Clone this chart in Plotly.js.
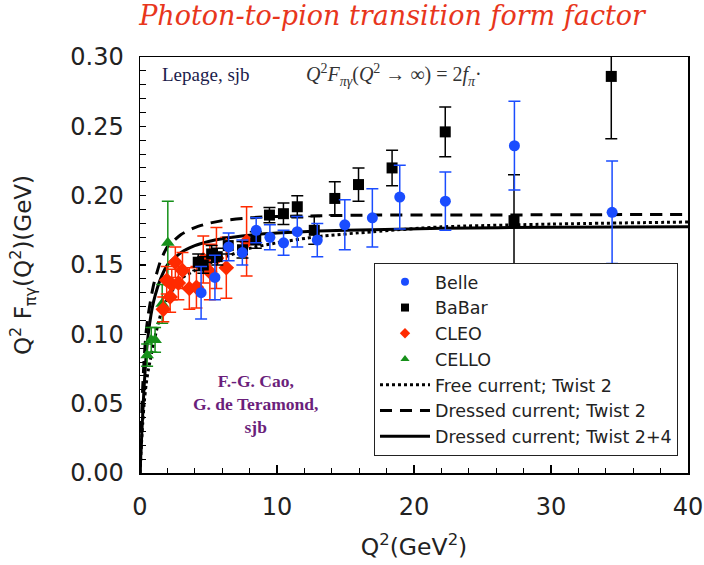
<!DOCTYPE html>
<html>
<head>
<meta charset="utf-8">
<script src="https://cdn.plot.ly/plotly-3.0.1.min.js"></script>
<style>html,body{margin:0;padding:0;background:#fff;}#chart{width:704px;height:565px;}</style>
</head>
<body>
<div id="chart"></div>
<script>
// ---- Data ----
// Belle
const belleQ2  = [4.46, 5.47, 6.47, 7.47, 8.48, 9.48, 10.48, 11.48, 12.94, 14.95, 16.96, 18.96, 22.29, 27.33, 34.46];
const belleF   = [0.130, 0.141, 0.163, 0.159, 0.175, 0.170, 0.166, 0.174, 0.168, 0.179, 0.184, 0.199, 0.196, 0.236, 0.188];
const belleErr = [0.019, 0.016, 0.010, 0.009, 0.009, 0.009, 0.009, 0.011, 0.012, 0.018, 0.021, 0.023, 0.021, 0.032, 0.037];
// BaBar
const babarQ2  = [4.25, 4.62, 5.23, 5.64, 6.44, 7.48, 8.45, 9.45, 10.47, 11.48, 12.72, 14.22, 15.95, 18.40, 22.28, 27.30, 34.40];
const babarF   = [0.152, 0.150, 0.158, 0.156, 0.164, 0.161, 0.168, 0.186, 0.187, 0.192, 0.175, 0.198, 0.208, 0.220, 0.246, 0.182, 0.286];
const babarErr = [0.006, 0.006, 0.006, 0.006, 0.006, 0.006, 0.006, 0.0055, 0.0078, 0.008, 0.010, 0.012, 0.012, 0.0128, 0.018, 0.033, 0.045];
// CLEO
const cleoQ2  = [1.70, 1.95, 2.20, 2.32, 2.58, 2.80, 3.10, 3.60, 4.12, 4.62, 5.10, 5.58, 6.30, 7.78];
const cleoF   = [0.118, 0.139, 0.127, 0.136, 0.152, 0.137, 0.146, 0.133, 0.134, 0.154, 0.145, 0.155, 0.148, 0.167];
const cleoErr = [0.009, 0.010, 0.011, 0.011, 0.011, 0.012, 0.013, 0.015, 0.015, 0.017, 0.020, 0.022, 0.022, 0.025];
// CELLO
const celloQ2  = [0.52, 0.82, 1.10, 1.62, 2.03];
const celloF   = [0.085, 0.096, 0.096, 0.122, 0.166];
const celloErr = [0.008, 0.009, 0.009, 0.014, 0.030];
// Theory curves
const curveQ2    = [0, 0.1, 0.2, 0.3, 0.45, 0.6, 0.8, 1.0, 1.5, 2.0, 3.0, 4.0, 5.0, 6.0, 8.0, 10, 13, 17, 22, 30, 40];
const freeTw2    = [0, 0.020, 0.036, 0.050, 0.064, 0.074, 0.084, 0.094, 0.114, 0.126, 0.140, 0.146, 0.151, 0.155, 0.162, 0.166, 0.1705, 0.174, 0.1775, 0.1795, 0.181];
const dressedTw2 = [0, 0.035, 0.062, 0.082, 0.102, 0.114, 0.126, 0.136, 0.153, 0.163, 0.172, 0.177, 0.180, 0.182, 0.184, 0.185, 0.1855, 0.186, 0.186, 0.1862, 0.1865];
const dressedTw24= [0, 0.022, 0.043, 0.062, 0.085, 0.100, 0.114, 0.124, 0.140, 0.150, 0.159, 0.164, 0.167, 0.169, 0.1715, 0.173, 0.1745, 0.1755, 0.1765, 0.1772, 0.1776];

const legendNames = ['Belle','BaBar','CLEO','CELLO','Free current; Twist 2','Dressed current; Twist 2','Dressed current; Twist 2+4'];
const colors = {belle:'#1a4cff', babar:'#000000', cleo:'#ff2a00', cello:'#16901a'};

function lineTrace(y, dash, name, rank){
  return {x: curveQ2, y: y, type:'scatter', mode:'lines', name: name, legendrank: rank,
          line:{color:'#000', width:3, dash:dash, shape:'spline', smoothing:0.6}};
}
function dataTrace(x, y, e, sym, color, size){
  return {x:x, y:y, type:'scatter', mode:'markers', showlegend:false, hoverinfo:'skip',
          marker:{symbol:sym, color:color, size:size},
          error_y:{type:'data', array:e, visible:true, color:color, thickness:1.5, width:6}};
}
function legendOnly(sym, color, name, rank){
  return {x:[null], y:[null], type:'scatter', mode:'markers', name:name, legendrank:rank,
          marker:{symbol:sym, color:color, size:8}};
}

const traces = [
  lineTrace(freeTw2, 'dot', legendNames[4], 5),
  lineTrace(dressedTw2, '12px,8px', legendNames[5], 6),
  lineTrace(dressedTw24, 'solid', legendNames[6], 7),
  dataTrace(celloQ2, celloF, celloErr, 'triangle-up', colors.cello, 12),
  dataTrace(cleoQ2, cleoF, cleoErr, 'diamond', colors.cleo, 12),
  dataTrace(babarQ2, babarF, babarErr, 'square', colors.babar, 11),
  dataTrace(belleQ2, belleF, belleErr, 'circle', colors.belle, 11),
  legendOnly('circle', colors.belle, legendNames[0], 1),
  legendOnly('square', colors.babar, legendNames[1], 2),
  legendOnly('diamond', colors.cleo, legendNames[2], 3),
  legendOnly('triangle-up', colors.cello, legendNames[3], 4)
];

const layout = {
  width:704, height:565,
  margin:{l:140, r:16, t:57, b:92},
  paper_bgcolor:'#fff', plot_bgcolor:'#fff',
  font:{family:'DejaVu Sans, Verdana, sans-serif', color:'#222'},
  title:{text:'<i>Photon-to-pion transition form factor</i>', x:0.557, xanchor:'center', y:0.973, yanchor:'middle',
         font:{family:'DejaVu Serif, serif', size:27, color:'#e8361c'}},
  xaxis:{range:[0,40], dtick:10, showgrid:false, zeroline:false, showline:true, mirror:true, linecolor:'#000', linewidth:1.5,
         ticks:'inside', ticklen:8, tickwidth:1.2, tickcolor:'#000', ticklabelstandoff:12,
         minor:{dtick:2, ticks:'inside', ticklen:5, tickwidth:1, tickcolor:'#000'},
         tickfont:{size:24, color:'#222'},
         title:{text:'Q<sup>2</sup>(GeV<sup>2</sup>)', font:{size:23.5, color:'#222'}, standoff:18}},
  yaxis:{range:[0,0.30], dtick:0.05, tickformat:'.2f', showgrid:false, zeroline:false, showline:true, mirror:true, linecolor:'#000', linewidth:1.5,
         ticks:'inside', ticklen:6, tickwidth:1.2, tickcolor:'#000', ticklabelstandoff:10,
         minor:{dtick:0.01, ticks:'inside', ticklen:6, tickwidth:1, tickcolor:'#000'},
         tickfont:{size:24, color:'#222'},
         title:{text:'Q<sup>2</sup> F<sub>πγ</sub>(Q<sup>2</sup>)(GeV)', font:{size:23, color:'#222'}, standoff:32}},
  legend:{x:0.427, xanchor:'left', y:0.505, yanchor:'top', bgcolor:'#fff', bordercolor:'#222', borderwidth:1,
          font:{size:17.5, color:'#222'}, itemwidth:50, tracegroupgap:0},
  showlegend:true,
  annotations:[
    {xref:'paper', yref:'paper', x:0.036, y:0.957, xanchor:'left', yanchor:'middle', showarrow:false,
     text:'Lepage, sjb', font:{family:'Liberation Serif, serif', size:19, color:'#1b1b4b'}},
    {xref:'paper', yref:'paper', x:0.30, y:0.957, xanchor:'left', yanchor:'middle', showarrow:false,
     text:'<i>Q</i><sup>2</sup><i>F</i><sub><i>πγ</i></sub>(<i>Q</i><sup>2</sup> → ∞) = 2<i>f</i><sub><i>π</i></sub>·',
     font:{family:'Liberation Serif, serif', size:20, color:'#333'}},
    {xref:'paper', yref:'paper', x:0.21, y:0.166, xanchor:'center', yanchor:'middle', showarrow:false, align:'center',
     text:'<b>F.-G. Cao,<br>G. de Teramond,<br>sjb</b>', font:{family:'Liberation Serif, serif', size:17.5, color:'#6b1f7b'}}
  ]
};

Plotly.newPlot('chart', traces, layout, {displayModeBar:false, staticPlot:true});
</script>
</body>
</html>
